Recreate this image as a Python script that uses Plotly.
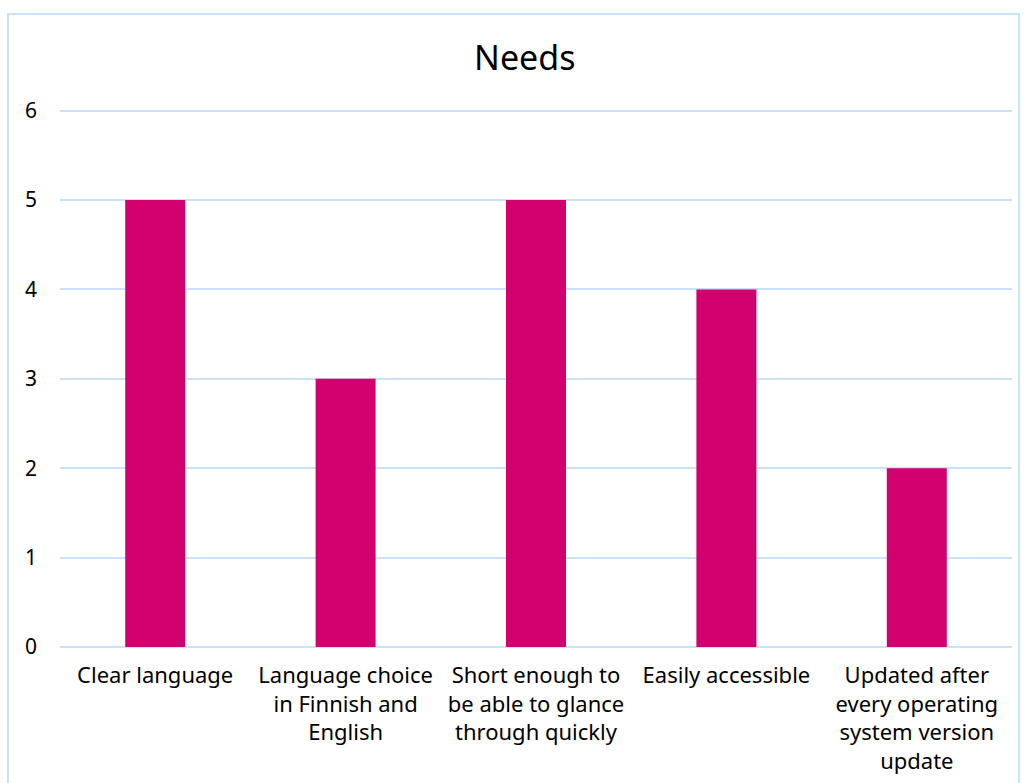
import plotly.graph_objects as go

categories = [
    "Clear language",
    "Language choice<br>in Finnish and<br>English",
    "Short enough to<br>be able to glance<br>through quickly",
    "Easily accessible",
    "Updated after<br>every operating<br>system version<br>update",
]
values = [5, 3, 5, 4, 2]
y_ticks = [0, 1, 2, 3, 4, 5, 6]

W, H = 1027, 783
L, R, T, B = 60, 15, 108, 136
pw, ph = W - L - R, H - T - B

fig = go.Figure(go.Bar(x=categories, y=values, marker=dict(color="#D2006F", line=dict(width=0))))

grid = "#C9E2F9"
fig.update_layout(
    width=W, height=H,
    margin=dict(l=L, r=R, t=T, b=B, autoexpand=False),
    paper_bgcolor="white", plot_bgcolor="white",
    font=dict(family="Noto Sans, DejaVu Sans, sans-serif", size=22, color="#000000"),
    title=dict(text="Needs", x=0.511, xanchor="center", y=1 - 58 / H, yanchor="middle",
               font=dict(size=34, color="#000000")),
    bargap=0.685,
    showlegend=False,
    xaxis=dict(showgrid=False, showline=False, ticks="", tickfont=dict(size=22),
               ticklabelstandoff=13, automargin=False),
    yaxis=dict(range=[0, 6.03], tickvals=y_ticks, showgrid=True, gridcolor=grid, gridwidth=2,
               zeroline=True, zerolinecolor=grid, zerolinewidth=2, showline=False,
               ticks="", tickfont=dict(size=21), ticklabelstandoff=22, automargin=False),
    shapes=[dict(type="rect", xref="paper", yref="paper",
                 x0=(8 - L) / pw, x1=(1019 - L) / pw,
                 y0=(H - 800 - B) / ph, y1=(H - 14 - B) / ph,
                 line=dict(color="#C9E2F9", width=2), fillcolor="rgba(0,0,0,0)", layer="below")],
)

fig.write_html("out.html")
